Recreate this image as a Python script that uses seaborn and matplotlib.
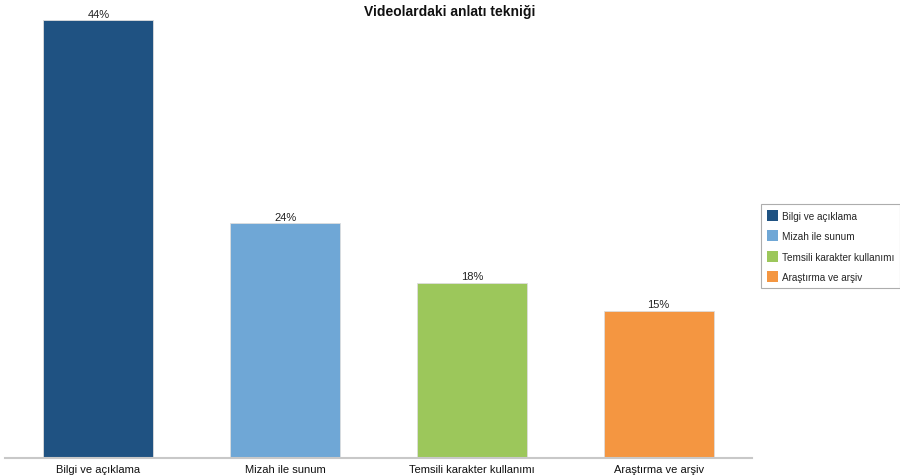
import matplotlib
matplotlib.use("Agg")
import matplotlib.pyplot as plt
import seaborn as sns
import pandas as pd
from matplotlib.patches import Patch

# data
categories = ["Bilgi ve açıklama", "Mizah ile sunum", "Temsili karakter kullanımı", "Araştırma ve arşiv"]
values = [44.0, 23.6, 17.6, 14.8]
value_labels = ["44%", "24%", "18%", "15%"]
colors = ["#1f5282", "#6fa7d6", "#9cc75b", "#f49641"]

df = pd.DataFrame({"teknik": categories, "oran": values})

sns.set_theme(style="white")
plt.rcParams["font.family"] = ["Liberation Sans", "DejaVu Sans"]

fig = plt.figure(figsize=(9, 4.77), dpi=100)
ax = fig.add_axes([5 / 900, 1 - 459 / 477, 747 / 900, 438 / 477])

sns.barplot(data=df, x="teknik", y="oran", hue="teknik", palette=colors,
            width=0.59, legend=False, ax=ax, saturation=1,
            edgecolor="#dddddd", linewidth=0.6)

for i, (v, lab) in enumerate(zip(values, value_labels)):
    ax.text(i, v + 0.15, lab, ha="center", va="bottom", fontsize=8, color="#222222")

ax.set_ylim(0, 44)
ax.set_xlim(-0.5, 3.5)
ax.set_xlabel("")
ax.set_ylabel("")
ax.set_yticks([])
ax.tick_params(axis="x", length=0, labelsize=8, colors="#111111", pad=4)
for s in ["top", "right", "left"]:
    ax.spines[s].set_visible(False)
ax.spines["bottom"].set_color("#c8c8c8")
ax.spines["bottom"].set_linewidth(1.5)

fig.text(0.5, 1 - 12 / 477, "Videolardaki anlatı tekniği", ha="center", va="center",
         fontsize=10, fontweight="bold", color="#111111")

handles = [Patch(facecolor=c, edgecolor="none") for c in colors]
leg = fig.legend(handles, categories, loc="center left",
                 bbox_to_anchor=(759 / 900, 1 - 247 / 477), fontsize=7.2,
                 frameon=True, fancybox=False, handlelength=1.1, handleheight=1.3,
                 handletextpad=0.4, labelspacing=0.95, borderpad=0.6, borderaxespad=0.2)
leg.get_frame().set_edgecolor("#999999")
leg.get_frame().set_linewidth(0.8)

fig.savefig("out.png", dpi=100)
